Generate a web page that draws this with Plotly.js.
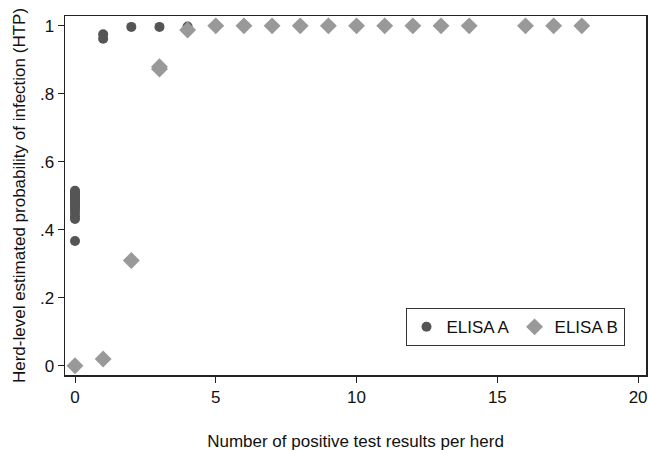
<!DOCTYPE html>
<html><head><meta charset="utf-8">
<script src="https://cdn.plot.ly/plotly-3.0.1.min.js"></script>
<style>html,body{margin:0;padding:0;background:#fff}#chart{width:648px;height:451px}</style>
</head><body><div id="chart"></div>
<script>
var elisaA_x = [0,0,0,0,0,0,0,0,0,0,0,0,0,0,0,0, 1,1, 2,3,4];
var elisaA_y = [0.515,0.51,0.505,0.50,0.495,0.49,0.485,0.48,0.475,0.47,0.465,0.46,0.45,0.44,0.432,0.367, 0.962,0.975, 0.997,0.997,0.998];
var elisaB_x = [0,1,2,3,3,4,5,6,7,8,9,10,11,12,13,14,16,17,18];
var elisaB_y = [0.0,0.02,0.31,0.873,0.88,0.988,1,1,1,1,1,1,1,1,1,1,1,1,1];
var xTicks = [0,5,10,15,20];
var yTicks = [0,0.2,0.4,0.6,0.8,1];
var yTickText = ['0','.2','.4','.6','.8','1'];

var traces = [
 {x: elisaA_x, y: elisaA_y, type:'scatter', mode:'markers', name:'ELISA A',
  marker:{symbol:'circle', size:10, color:'#555555'}},
 {x: elisaB_x, y: elisaB_y, type:'scatter', mode:'markers', name:'ELISA B',
  marker:{symbol:'diamond', size:13, color:'#999999'}}
];
var layout = {
 width:648, height:451,
 margin:{l:65, r:2, t:16, b:76},
 paper_bgcolor:'#fff', plot_bgcolor:'#fff',
 font:{family:'Liberation Sans, Arial, sans-serif', size:17, color:'#111'},
 showlegend:true,
 legend:{orientation:'h', x:0.963, xanchor:'right', y:0.08, yanchor:'bottom',
   bordercolor:'#333', borderwidth:1, bgcolor:'#fff', font:{size:17}, tracegroupgap:0},
 xaxis:{range:[-0.355,20.28], tickvals:xTicks, ticktext:xTicks.map(String), ticks:'outside', ticklen:6,
   tickcolor:'#222', showline:true, linecolor:'#222', linewidth:1.5, mirror:true, showgrid:false, zeroline:false,
   tickfont:{size:17},
   title:{text:'Number of positive test results per herd', font:{size:17}, standoff:30}},
 yaxis:{range:[-0.027,1.029], tickvals:yTicks, ticktext:yTickText, ticks:'outside', ticklen:6,
   tickcolor:'#222', showline:true, linecolor:'#222', linewidth:1.5, mirror:true, showgrid:false, zeroline:false,
   tickfont:{size:17},
   title:{text:'Herd-level estimated probability of infection (HTP)', font:{size:17}, standoff:10}}
};
Plotly.newPlot('chart', traces, layout, {displayModeBar:false, staticPlot:true});
</script></body></html>
